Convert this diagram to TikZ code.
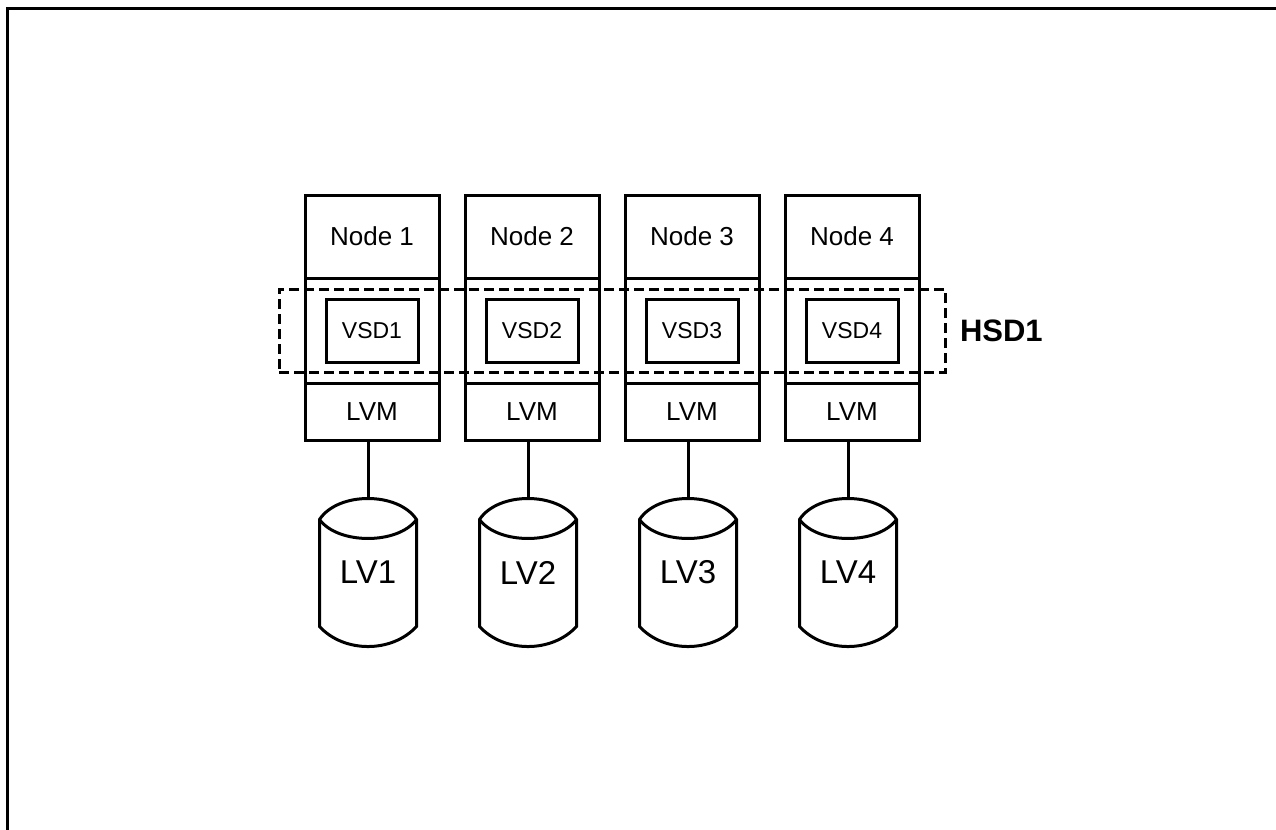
\documentclass[tikz,border=0pt]{standalone}
\usepackage{fontspec}
\setmainfont{Liberation Sans}
\usetikzlibrary{positioning, fit}

\begin{document}
\begin{tikzpicture}[
    x=0.5pt, y=-0.5pt,
    line width=1.5pt,
    node distance=13pt,
    box/.style={
        draw,
        outer sep=0pt,
        inner sep=0pt,
        minimum width=67pt,
        font=\fontsize{13}{15}\selectfont
    },
    vsd/.style={draw, outer sep=0pt, minimum width=46pt, minimum height=31.5pt, font=\fontsize{11.5}{13}\selectfont},
    disk/.style={minimum width=48.5pt, minimum height=74pt, inner sep=0pt, font=\fontsize{16.5}{19}\selectfont},
    hsdbox/.style={draw, dash pattern=on 5pt off 2.5pt, inner xsep=23.5pt, inner ysep=5pt},
    link/.style={line width=1.5pt}
]

\useasboundingbox (0,0) rectangle (1276,830);

% page frame
\draw (7,830) -- (7,8) -- (1276,8);

% Node 1
\node[box, minimum height=41.5pt] (node1) at (372,236.5) {Node 1};
\node[box, minimum height=52.5pt, below=0pt of node1] (mid1) {};
\node[box, minimum height=28.5pt, below=0pt of mid1] (lvm1) {LVM};
\node[vsd] (vsd1) at (mid1) {VSD1};

% Node 2
\node[box, minimum height=41.5pt, right=of node1] (node2) {Node 2};
\node[box, minimum height=52.5pt, below=0pt of node2] (mid2) {};
\node[box, minimum height=28.5pt, below=0pt of mid2] (lvm2) {LVM};
\node[vsd] (vsd2) at (mid2) {VSD2};

% Node 3
\node[box, minimum height=41.5pt, right=of node2] (node3) {Node 3};
\node[box, minimum height=52.5pt, below=0pt of node3] (mid3) {};
\node[box, minimum height=28.5pt, below=0pt of mid3] (lvm3) {LVM};
\node[vsd] (vsd3) at (mid3) {VSD3};

% Node 4
\node[box, minimum height=41.5pt, right=of node3] (node4) {Node 4};
\node[box, minimum height=52.5pt, below=0pt of node4] (mid4) {};
\node[box, minimum height=28.5pt, below=0pt of mid4] (lvm4) {LVM};
\node[vsd] (vsd4) at (mid4) {VSD4};

% HSD spanning the VSDs
\node[hsdbox, fit=(vsd1)(vsd4)] (hsd) {};
\node[font=\bfseries\fontsize{15.5}{18}\selectfont, inner sep=0pt, right=6pt of hsd] (hsdlabel) {HSD1};

% logical volumes
\node[disk, below=28.5pt of lvm1, xshift=-2pt] (lv1) {LV1};
\node[disk, below=28.5pt of lvm2, xshift=-2pt] (lv2) {LV2};
\node[disk, below=28.5pt of lvm3, xshift=-2pt] (lv3) {LV3};
\node[disk, below=28.5pt of lvm4, xshift=-2pt] (lv4) {LV4};

\begin{scope}[shift={(lv1.center)}]
    \draw (-48.5,-53) .. controls (-30,-81) and (30,-81) .. (48.5,-53) -- (48.5,54) .. controls (24,80.7) and (-24,80.7) .. (-48.5,54) -- cycle;
    \draw (-48.5,-53) .. controls (-30,-27.7) and (30,-27.7) .. (48.5,-53);
\end{scope}
\begin{scope}[shift={(lv2.center)}]
    \draw (-48.5,-53) .. controls (-30,-81) and (30,-81) .. (48.5,-53) -- (48.5,54) .. controls (24,80.7) and (-24,80.7) .. (-48.5,54) -- cycle;
    \draw (-48.5,-53) .. controls (-30,-27.7) and (30,-27.7) .. (48.5,-53);
\end{scope}
\begin{scope}[shift={(lv3.center)}]
    \draw (-48.5,-53) .. controls (-30,-81) and (30,-81) .. (48.5,-53) -- (48.5,54) .. controls (24,80.7) and (-24,80.7) .. (-48.5,54) -- cycle;
    \draw (-48.5,-53) .. controls (-30,-27.7) and (30,-27.7) .. (48.5,-53);
\end{scope}
\begin{scope}[shift={(lv4.center)}]
    \draw (-48.5,-53) .. controls (-30,-81) and (30,-81) .. (48.5,-53) -- (48.5,54) .. controls (24,80.7) and (-24,80.7) .. (-48.5,54) -- cycle;
    \draw (-48.5,-53) .. controls (-30,-27.7) and (30,-27.7) .. (48.5,-53);
\end{scope}

\draw[link] (lvm1.south -| lv1.north) -- (lv1.north);
\draw[link] (lvm2.south -| lv2.north) -- (lv2.north);
\draw[link] (lvm3.south -| lv3.north) -- (lv3.north);
\draw[link] (lvm4.south -| lv4.north) -- (lv4.north);

\end{tikzpicture}
\end{document}
